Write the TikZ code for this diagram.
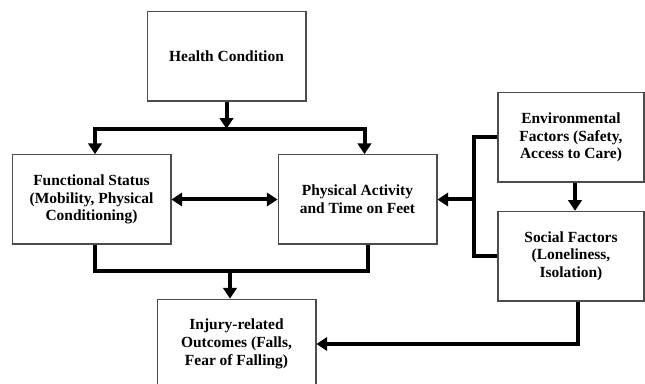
\documentclass[tikz,border=0pt]{standalone}
\usepackage{fontspec}
\setmainfont{Liberation Serif}
\usetikzlibrary{arrows.meta, positioning, calc}
\tikzset{
    box/.style={draw=black!70, line width=1pt, fill=white, align=center, minimum width=119pt, minimum height=67pt, inner sep=2pt, font=\fontsize{11.6}{13.3}\selectfont\bfseries},
    sidebox/.style={box, minimum width=109.5pt},
    link/.style={line width=3pt, black},
    arrow/.style={link, -{Triangle[width=10pt,length=8pt]}},
    dblarrow/.style={link, {Triangle[width=10pt,length=8pt]}-{Triangle[width=10pt,length=8pt]}}
}

\begin{document}
\begin{tikzpicture}[x=0.75pt, y=-0.75pt]
        \useasboundingbox (0,0) rectangle (645,384);
        \clip (0,0) rectangle (645,384);
        \node [box] (health) at (226.5,56.5) {Health Condition};
        \node [box] (func) at (91.5,199.5) {Functional Status\\(Mobility, Physical\\Conditioning)};
        \node [box, right=79.5pt of func] (activity) {Physical Activity\\and Time on Feet};
        \node [sidebox] (env) at (571,137.5) {Environmental\\Factors (Safety,\\Access to Care)};
        \node [sidebox, below=21pt of env] (social) {Social Factors\\(Loneliness,\\Isolation)};
        \node [box] (injury) at (236.5,344) {Injury-related\\Outcomes (Falls,\\Fear of Falling)};
        % health condition splits to both
        \draw [arrow] (health.south) -- ++(0,27) coordinate (split);
        \draw [arrow] (split) -| ($(func.north)+(3.5,0)$);
        \draw [arrow] (split) -| ($(activity.north)+(7,0)$);
        \draw [dblarrow] (func) -- (activity);
        % context factors
        \draw [link] (env.west) -- ++(-23,0) coordinate (bend) |- (social.west);
        \draw [arrow] (bend) |- (activity.east);
        \draw [arrow] ($(env.south)+(4,0)$) -- ($(social.north)+(4,0)$);
        % outcomes
        \draw [link] ($(func.south)+(3.5,0)$) -- ++(0,26) coordinate (merge) -| ($(activity.south)+(10,0)$);
        \coordinate (injtop) at ($(injury.north)+(-6.5,0)$);
        \draw [arrow] (injtop |- merge) -- (injtop);
        \draw [arrow] ($(social.south)+(7,0)$) |- (injury.east);
    \end{tikzpicture}
\end{document}
